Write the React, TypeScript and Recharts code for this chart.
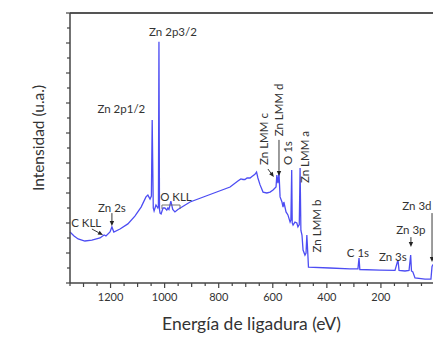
import React from 'react';
import { LineChart, Line, XAxis, YAxis, ReferenceLine, ReferenceDot } from 'recharts';

// Binding energy (eV) and intensity (a.u.)
const energy = [
  1350, 1335, 1320, 1295, 1269, 1239, 1224, 1217, 1202, 1195, 1188, 1165, 1136, 1110, 1087, 1069, 1062, 1054, 1049, 1046,
  1042, 1039, 1032, 1025, 1023, 1021, 1019, 1017, 1013, 1006, 999, 992, 988, 984, 977, 970, 962, 951, 906, 832,
  758, 729, 718, 710, 703, 695, 684, 677, 666, 660, 655, 647, 636, 622, 610, 599, 588, 585, 581, 577,
  573, 566, 562, 559, 551, 544, 536, 533, 530, 528, 525, 518, 511, 507, 502, 499, 496, 492, 488, 481,
  477, 474, 470, 468, 389, 315, 285, 281, 278, 204, 148, 137, 133, 111, 96, 90, 87, 82, 74, 37,
  15, 11, 8, 0,
];
const intensity = [
  1.7, 1.57, 1.47, 1.4, 1.43, 1.5, 1.6, 1.57, 1.7, 1.87, 1.7, 1.8, 1.97, 2.23, 2.53, 2.87, 2.93, 2.8, 2.9, 5.43,
  2.5, 2.4, 2.6, 2.5, 2.55, 8.04, 2.45, 2.33, 2.3, 2.5, 2.5, 2.43, 2.5, 2.45, 2.73, 2.45, 2.37, 2.45, 2.7, 2.95,
  3.2, 3.4, 3.47, 3.45, 3.45, 3.5, 3.5, 3.55, 3.62, 3.7, 3.5, 3.27, 3.03, 3.0, 3.03, 3.1, 3.2, 3.6, 3.33, 3.67,
  2.87, 2.7, 2.53, 2.7, 2.37, 2.27, 2.03, 2.1, 3.77, 2.0, 1.93, 2.03, 2.0, 1.87, 1.95, 3.83, 1.75, 1.6, 1.1, 0.93,
  1.0, 1.6, 0.9, 0.53, 0.5, 0.47, 0.47, 0.83, 0.45, 0.43, 0.42, 0.77, 0.42, 0.4, 0.42, 0.93, 0.4, 0.37, 0.17, 0.13,
  0.13, 0.55, 0.6, 0.6,
];

const xLabelTicks = [1200, 1000, 800, 600, 400, 200];
const xAllTicks = [
  0, 50, 100, 150, 200, 250, 300, 350, 400, 450, 500, 550, 600, 650, 700, 750, 800, 850, 900, 950, 1000, 1050, 1100,
  1150, 1200, 1250, 1300, 1350,
];
const yAllTicks = [0, 0.5, 1, 1.5, 2, 2.5, 3, 3.5, 4, 4.5, 5, 5.5, 6, 6.5, 7, 7.5, 8, 8.5, 9];

// Peak labels: text, energy, intensity, rotated?
const labelText = ['Zn 2p3/2', 'Zn 2p1/2', 'O KLL', 'Zn 2s', 'C KLL', 'Zn LMM c', 'Zn LMM d', 'O 1s', 'Zn LMM a', 'Zn LMM b', 'C 1s', 'Zn 3s', 'Zn 3p', 'Zn 3d'];
const labelE = [969, 1160, 958, 1195, 1290, 636, 577, 544, 481, 440, 285, 156, 89, 67];
const labelV = [8.4, 5.83, 2.87, 2.53, 2.03, 4.8, 5.77, 4.33, 4.2, 1.9, 1.03, 0.9, 1.77, 2.6];
const labelRot = [false, false, false, false, false, true, true, true, true, true, false, false, false, false];

// Arrows: start (e, v) -> end (e, v)
const arrowE1 = [1195, 1269, 618, 577, 89, 11];
const arrowV1 = [2.33, 1.8, 3.8, 4.77, 1.53, 2.33];
const arrowE2 = [1195, 1228, 596, 577, 89, 11];
const arrowV2 = [1.9, 1.6, 3.53, 3.57, 1.2, 0.7];

// O KLL bracket
const bracketE = [1010, 943];
const bracketV = [2.6, 2.47];

const data = energy.map((e, i) => ({ e, v: intensity[i] }));

const FONT = 'Lato, "Open Sans", sans-serif';
const TXT = '#333';

const XTick = (props: any) => {
  const { x, y, payload } = props;
  const major = xLabelTicks.includes(payload.value);
  const mid = payload.value % 100 === 0;
  return (
    <g>
      <line x1={x} x2={x} y1={y} y2={y + (major ? 5 : mid ? 4 : 3)} stroke="#444" strokeWidth={1.2} />
      {major && (
        <text x={x} y={y + 18} textAnchor="middle" fontSize={11} fill={TXT} fontFamily={FONT}>
          {payload.value}
        </text>
      )}
    </g>
  );
};

const YTick = (props: any) => {
  const { x, y, payload } = props;
  const major = Number.isInteger(payload.value);
  return <line x1={x} x2={x - (major ? 4 : 3)} y1={y} y2={y} stroke="#444" strokeWidth={1.2} />;
};

const arrowShape = (p: any) => {
  const { x1, y1, x2, y2 } = p;
  const dx = x2 - x1;
  const dy = y2 - y1;
  const len = Math.sqrt(dx * dx + dy * dy) || 1;
  const ux = dx / len;
  const uy = dy / len;
  const hl = 5;
  const hw = 2.2;
  const bx = x2 - ux * hl;
  const by = y2 - uy * hl;
  return (
    <g>
      <line x1={x1} y1={y1} x2={bx} y2={by} stroke="#222" strokeWidth={0.9} />
      <polygon points={`${x2},${y2} ${bx - uy * hw},${by + ux * hw} ${bx + uy * hw},${by - ux * hw}`} fill="#222" />
    </g>
  );
};

export default function App() {
  return (
    <div style={{ position: 'absolute', left: 0, top: 0, width: 433, height: 337, overflow: 'hidden', background: '#fff' }}>
      <LineChart width={440} height={337} data={data} margin={{ top: 13, right: 5, left: 0, bottom: 0 }}>
        <XAxis
          dataKey="e"
          type="number"
          domain={[0, 1350]}
          reversed
          ticks={xAllTicks}
          interval={0}
          tick={<XTick />}
          tickLine={false}
          tickSize={0}
          tickMargin={0}
          height={54}
          axisLine={{ stroke: '#444', strokeWidth: 1.5 }}
          label={{
            content: (p: any) => {
              const vb = p.viewBox;
              return (
                <text x={vb.x + vb.width / 2 - 1} y={vb.y + 47} textAnchor="middle" fontSize={17.5} fill={TXT} fontFamily={FONT}>
                  Energía de ligadura (eV)
                </text>
              );
            },
          }}
        />
        <YAxis
          type="number"
          domain={[0, 9]}
          ticks={yAllTicks}
          interval={0}
          tick={<YTick />}
          tickLine={false}
          tickSize={0}
          tickMargin={0}
          width={70}
          axisLine={{ stroke: '#444', strokeWidth: 1.5 }}
          label={{
            content: (p: any) => {
              const vb = p.viewBox;
              const cx = vb.x + 38;
              const cy = vb.y + vb.height / 2 - 10;
              return (
                <text x={cx} y={cy} transform={`rotate(-90, ${cx}, ${cy})`} textAnchor="middle" dominantBaseline="central" fontSize={15.5} fill={TXT} fontFamily={FONT}>
                  Intensidad (u.a.)
                </text>
              );
            },
          }}
        />
        <ReferenceLine y={9} stroke="#555" strokeWidth={2} />
        <Line type="linear" dataKey="v" stroke="#4d4df3" strokeWidth={1.3} dot={false} isAnimationActive={false} />
        {arrowE1.map((e1, i) => (
          <ReferenceLine
            key={'a' + i}
            segment={[
              { x: e1, y: arrowV1[i] },
              { x: arrowE2[i], y: arrowV2[i] },
            ]}
            shape={arrowShape}
          />
        ))}
        <ReferenceLine
          segment={[
            { x: bracketE[0], y: bracketV[0] },
            { x: bracketE[1], y: bracketV[0] },
          ]}
          stroke="#666"
          strokeWidth={0.9}
        />
        <ReferenceLine
          segment={[
            { x: bracketE[0], y: bracketV[0] },
            { x: bracketE[0], y: bracketV[1] },
          ]}
          stroke="#666"
          strokeWidth={0.9}
        />
        <ReferenceLine
          segment={[
            { x: bracketE[1], y: bracketV[0] },
            { x: bracketE[1], y: bracketV[1] },
          ]}
          stroke="#666"
          strokeWidth={0.9}
        />
        {labelText.map((t, i) => (
          <ReferenceDot
            key={'l' + i}
            x={labelE[i]}
            y={labelV[i]}
            r={0}
            shape={(p: any) => (
              <text
                x={p.cx}
                y={p.cy}
                transform={labelRot[i] ? `rotate(-90, ${p.cx}, ${p.cy})` : undefined}
                textAnchor="middle"
                dominantBaseline="central"
                fontSize={11.5}
                fill={TXT}
                fontFamily={FONT}
              >
                {t}
              </text>
            )}
          />
        ))}
      </LineChart>
    </div>
  );
}
